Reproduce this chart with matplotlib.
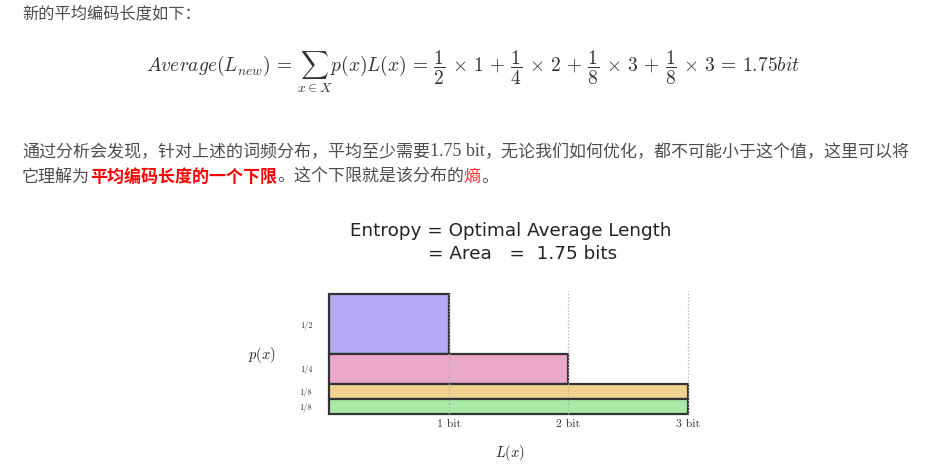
import numpy as np
import matplotlib.pyplot as plt

plt.rcParams['mathtext.fontset'] = 'cm'

# chart data
lengths = [1, 2, 3, 3]
probs = [1/2, 1/4, 1/8, 1/8]
prob_labels = ['1/2', '1/4', '1/8', '1/8']
bit_ticks = [1, 2, 3]
bit_labels = ['1 bit', '2 bit', '3 bit']
colors = ['#b3a9f4', '#eba9c9', '#f1d38f', '#a9eba6']

heading = '新的平均编码长度如下：'
formula = (r'$Average(L_{new})\,=\,\sum_{x\in X} p(x)L(x)\,=\,\dfrac{1}{2}\,\times\,1'
           r'\,+\,\dfrac{1}{4}\,\times\,2\,+\,\dfrac{1}{8}\,\times\,3\,+\,\dfrac{1}{8}\,\times\,3'
           r'\,=\,1.75bit$')
gray = '#4d4d4d'
line1 = [('通过分析会发现，针对上述的词频分布，平均至少需要', 'normal', gray, 'cjk'),
         ('1.75 bit', 'normal', gray, 'serif'),
         ('，无论我们如何优化，都不可能小于这个值，这里可以将', 'normal', gray, 'cjk')]
line2 = [('它理解为', 'normal', gray, 'cjk'),
         ('平均编码长度的一个下限', 'bold', '#ff0000', 'cjk'),
         ('。这个下限就是该分布的', 'normal', gray, 'cjk'),
         ('熵', 'normal', '#ff3333', 'cjk'),
         ('。', 'normal', gray, 'cjk')]

W, H = 946, 476
fig = plt.figure(figsize=(W / 100, H / 100), dpi=100)
fams = {'cjk': ['Noto Sans CJK SC', 'DejaVu Sans'], 'serif': ['Liberation Serif']}
fs = 12.25


def px(x, y):
    return x / W, 1 - y / H


fig.text(*px(22, 14), heading, family=fams['cjk'], fontsize=11.7, color=gray, va='center')
fig.text(*px(473, 72), formula, fontsize=14, ha='center', va='baseline', color='#333333')

fig.canvas.draw()
r = fig.canvas.get_renderer()
for y, segs in [(152, line1), (177, line2)]:
    x = 22
    for s, w, c, f in segs:
        size = 13 if f == 'serif' else fs
        t = fig.text(*px(x, y), s, family=fams[f], fontsize=size, color=c, fontweight=w,
                     va='center')
        x = t.get_window_extent(r).x1

# the chart
ax = fig.add_axes([329 / W, 1 - 414 / H, 359 / W, 123 / H])
bottoms = np.cumsum(probs[::-1])[::-1] - np.array(probs)
ax.bar(np.zeros(len(lengths)), probs, width=lengths, bottom=bottoms, align='edge',
       color=colors, edgecolor='#333333', linewidth=1.6, zorder=1, clip_on=False)
ax.vlines(bit_ticks, 0, 1.025, linestyles=':', colors='#aaaaaa', linewidth=0.9,
          zorder=3, clip_on=False)
ax.set_xlim(0, 3)
ax.set_ylim(0, 1.025)
ax.set_xticks(bit_ticks, bit_labels, fontfamily='cmr10', fontsize=8.5)
ax.set_yticks(bottoms + np.array(probs) / 2, prob_labels, fontfamily='cmr10', fontsize=6)
ax.tick_params(length=0, pad=4, colors='#333333')
ax.tick_params(axis='y', pad=12)
for sp in ax.spines.values():
    sp.set_visible(False)

fig.text(*px(262, 355), r'$p(x)$', fontsize=10.5, ha='center', va='center', color='#222222')
fig.text(*px(510, 453), r'$L(x)$', fontsize=10.5, ha='center', va='center', color='#222222')
fig.text(*px(511, 231), 'Entropy = Optimal Average Length', fontsize=13.2, ha='center',
         va='center', color='#222222')
fig.text(*px(523, 254), '= Area   =  1.75 bits', fontsize=13.2, ha='center',
         va='center', color='#222222')

fig.savefig('out.png', dpi=100)
